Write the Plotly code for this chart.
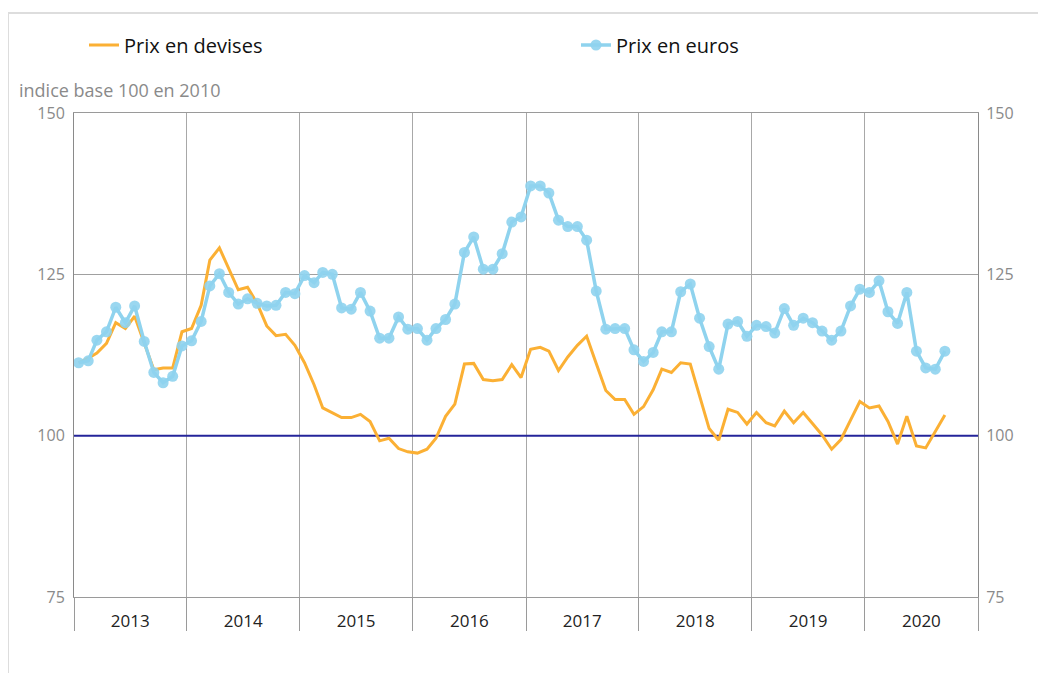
import pandas as pd
import plotly.graph_objects as go

# ---- data (monthly, Jan 2013 -> Sep 2020) ----
years = [2013, 2014, 2015, 2016, 2017, 2018, 2019, 2020]

prix_euros = [
    111.3, 111.6, 114.8, 116.1, 119.9, 117.5, 120.1, 114.6, 109.8, 108.2, 109.2, 113.9,   # 2013
    114.7, 117.7, 123.2, 125.1, 122.2, 120.4, 121.2, 120.5, 120.1, 120.2, 122.2, 122.0,   # 2014
    124.8, 123.7, 125.3, 125.0, 119.8, 119.6, 122.2, 119.3, 115.1, 115.1, 118.4, 116.5,   # 2015
    116.6, 114.8, 116.6, 118.0, 120.4, 128.4, 130.8, 125.8, 125.8, 128.2, 133.1, 133.9,   # 2016
    138.7, 138.7, 137.6, 133.4, 132.4, 132.4, 130.3, 122.4, 116.5, 116.6, 116.6, 113.3,   # 2017
    111.5, 112.9, 116.1, 116.1, 122.3, 123.5, 118.2, 113.8, 110.3, 117.3, 117.7, 115.4,   # 2018
    117.1, 116.9, 115.9, 119.7, 117.1, 118.2, 117.5, 116.2, 114.8, 116.2, 120.1, 122.7,   # 2019
    122.2, 124.0, 119.2, 117.4, 122.2, 113.1, 110.5, 110.3, 113.1,                        # 2020
]

prix_devises = [
    111.3, 112.0, 112.8, 114.3, 117.5, 116.6, 118.5, 114.5, 110.2, 110.5, 110.5, 116.1,   # 2013
    116.6, 120.2, 127.2, 129.1, 125.8, 122.6, 123.0, 120.5, 117.0, 115.5, 115.7, 114.0,   # 2014
    111.3, 107.9, 104.3, 103.6, 102.8, 102.8, 103.3, 102.2, 99.2, 99.6, 98.0, 97.5,       # 2015
    97.3, 97.9, 99.6, 103.0, 104.9, 111.1, 111.2, 108.7, 108.5, 108.7, 111.0, 109.0,      # 2016
    113.4, 113.7, 113.1, 110.1, 112.2, 114.0, 115.4, 111.2, 107.0, 105.6, 105.6, 103.3,   # 2017
    104.5, 107.1, 110.3, 109.8, 111.3, 111.1, 106.1, 101.1, 99.3, 104.1, 103.6, 101.8,    # 2018
    103.6, 102.0, 101.5, 103.8, 102.0, 103.6, 101.9, 100.1, 97.9, 99.4, 102.4, 105.3,     # 2019
    104.3, 104.6, 102.2, 98.7, 103.0, 98.4, 98.1, 100.7, 103.2,                           # 2020
]

base_value = 100
y_ticks = [75, 100, 125, 150]
year_labels = [str(y) for y in years]

# month positions (middle of each month)
months = pd.date_range("2013-01-01", periods=len(prix_euros), freq="MS") + pd.Timedelta(days=15)
year_starts = [f"{y}-01-01" for y in years + [2021]]
year_mids = [f"{y}-07-02" for y in years]
x_range = [year_starts[0], year_starts[-1]]

ORANGE = "#FBB034"
BLUE = "#8FD3EE"
NAVY = "#24249a"
FONT = "Open Sans"

# page offset from the default 8px body margin
OFF = 8
W, H = 1046 - OFF, 673 - OFF
# target plot box in page pixels
L, R, T, B = 74, 978, 113, 597
pw, ph = R - L, B - T


def px_x(px):
    return (px - L) / pw


def px_y(py):
    return 1 - (py - T) / ph


fig = go.Figure()
fig.add_trace(go.Scatter(
    x=x_range, y=[base_value, base_value], mode="lines",
    line=dict(color=NAVY, width=2), showlegend=False, hoverinfo="skip",
))
fig.add_trace(go.Scatter(
    x=months, y=prix_devises, name="Prix en devises", mode="lines",
    line=dict(color=ORANGE, width=3), legend="legend",
))
fig.add_trace(go.Scatter(
    x=months, y=prix_euros, name="Prix en euros", mode="lines+markers",
    line=dict(color=BLUE, width=3.5),
    marker=dict(color=BLUE, size=11, opacity=0.9), legend="legend2",
))
# invisible trace so the right-hand axis is rendered
fig.add_trace(go.Scatter(x=[months[0]], y=[base_value], yaxis="y2", mode="markers",
                         marker=dict(opacity=0), showlegend=False, hoverinfo="skip"))

legend_common = dict(
    orientation="h", xanchor="left", y=px_y(45), yanchor="middle",
    font=dict(family=FONT, size=20, color="#111"), bgcolor="rgba(0,0,0,0)",
)

fig.update_layout(
    width=W, height=H,
    margin=dict(l=L - OFF, r=(W + OFF) - R, t=T - OFF, b=(H + OFF) - B, pad=0),
    paper_bgcolor="white", plot_bgcolor="white",
    font=dict(family=FONT, size=16, color="#222"),
    showlegend=True,
    legend=dict(x=px_x(84), **legend_common),
    legend2=dict(x=px_x(576), **legend_common),
    xaxis=dict(
        type="date", range=x_range,
        tickmode="array", tickvals=year_mids, ticktext=year_labels, ticks="",
        tickfont=dict(family=FONT, size=17, color="#222"), ticklabelstandoff=9,
        showgrid=False, showline=True, linecolor="#9a9a9a", linewidth=1, mirror=True,
        zeroline=False,
        minor=dict(tickmode="array", tickvals=year_starts, ticks="outside", ticklen=33,
                   tickcolor="#9a9a9a", tickwidth=1, showgrid=True, gridcolor="#a8a8a8",
                   gridwidth=1),
    ),
    yaxis=dict(
        range=[75, 150], tickmode="array", tickvals=y_ticks, ticks="",
        tickfont=dict(family=FONT, size=16, color="#8a8a8a"), ticklabelstandoff=5,
        showgrid=True, gridcolor="#a0a0a0", gridwidth=1,
        showline=True, linecolor="#8a8a8a", linewidth=1, zeroline=False,
    ),
    yaxis2=dict(
        range=[75, 150], tickmode="array", tickvals=y_ticks, ticks="",
        overlaying="y", side="right", anchor="x",
        tickfont=dict(family=FONT, size=16, color="#8a8a8a"), ticklabelstandoff=4,
        showgrid=False, showline=True, linecolor="#8a8a8a", linewidth=1, zeroline=False,
    ),
    shapes=[
        dict(type="rect", xref="paper", yref="paper",
             x0=px_x(8), x1=px_x(1070), y0=px_y(700), y1=px_y(13),
             line=dict(color="#dddddd", width=2), fillcolor="rgba(0,0,0,0)", layer="below"),
    ],
    annotations=[
        dict(text="indice base 100 en 2010", xref="paper", yref="paper",
             x=px_x(17), y=px_y(90), xanchor="left", yanchor="middle", showarrow=False,
             font=dict(family=FONT, size=18, color="#8a8a8a")),
    ],
)

fig.write_html("out.html")
